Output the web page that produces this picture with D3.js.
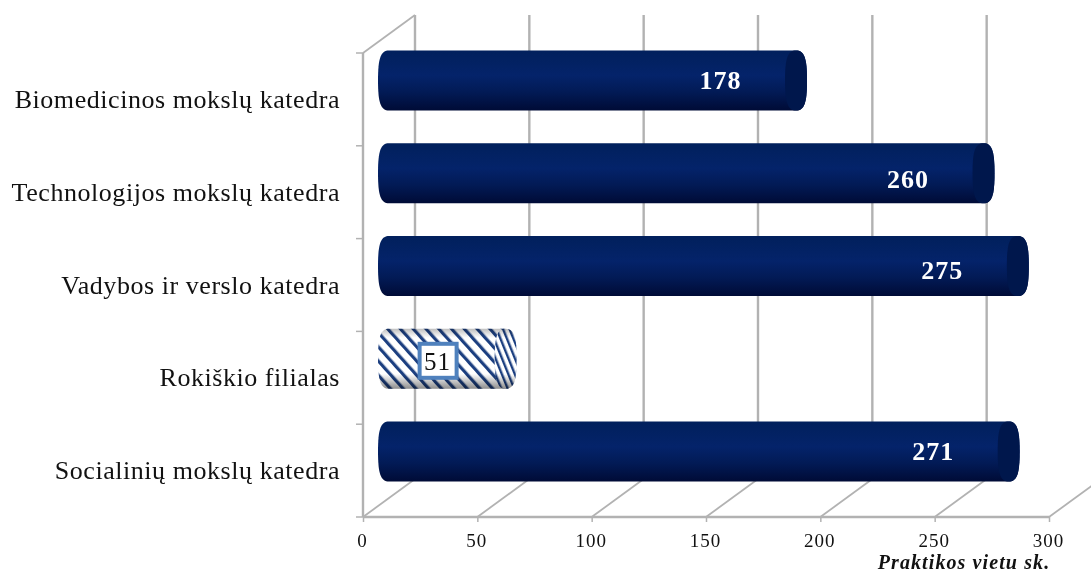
<!DOCTYPE html>
<html>
<head>
<meta charset="utf-8">
<script src="https://cdn.jsdelivr.net/npm/d3@7"></script>
<style>
    html, body { margin: 0; padding: 0; background: #fff; }
    svg { display: block; filter: blur(0.4px); }
    text { font-family: "Liberation Serif", serif; fill: #111; }
</style>
</head>
<body>
<svg id="graph" width="1091" height="573"></svg>
<script>
const categories = [
    "Biomedicinos mokslų katedra",
    "Technologijos mokslų katedra",
    "Vadybos ir verslo katedra",
    "Rokiškio filialas",
    "Socialinių mokslų katedra",
];
const values = [178, 260, 275, 51, 271];
const hatched = ["Rokiškio filialas"];
const xTicks = [0, 50, 100, 150, 200, 250, 300];
const axisTitle = "Praktikos vietu sk.";

// Pseudo 3D box: the back wall is the front plane moved by depth
const depth = {x: 52, y: -38};
const plot = {left: 363, right: 1049, top: 53, bottom: 517};
const gridColor = "#b2b2b2";
const capRx = 11;
const barHeight = 60;

// The value labels are not quite centred in the reference
const labelNudge = [0, 6, 4, 3, 0];

const svg = d3.select("#graph");

const x = d3.scaleLinear().domain([0, 300]).range([plot.left, plot.right]);
const y = d3.scaleBand().domain(categories).range([plot.top, plot.bottom]);

const defs = svg.append("defs");

const bodyGrad = defs.append("linearGradient")
    .attr("id", "barBody")
    .attr("x1", 0).attr("y1", 0).attr("x2", 0).attr("y2", 1);
[[0, "#01205c"], [0.42, "#04236a"], [0.7, "#021a55"], [1, "#000b36"]].forEach(function (s) {
    bodyGrad.append("stop").attr("offset", s[0]).attr("stop-color", s[1]);
});

// Stripes for the hatched bar, the end cap has tighter and steeper ones
function addHatch(id, period, stripe, angle) {
    const p = defs.append("pattern")
        .attr("id", id)
        .attr("patternUnits", "userSpaceOnUse")
        .attr("width", period).attr("height", period)
        .attr("patternTransform", "rotate(" + angle + ")");
    p.append("rect").attr("width", period).attr("height", period).attr("fill", "#fff");
    p.append("rect").attr("width", stripe).attr("height", period).attr("fill", "#1c3f80");
}
addHatch("hatch", 9.5, 3.2, -42);
addHatch("hatchCap", 6, 2.4, -22);

const shade = defs.append("linearGradient")
    .attr("id", "hatchShade")
    .attr("x1", 0).attr("y1", 0).attr("x2", 0).attr("y2", 1);
[[0, "#000", 0.25], [0.15, "#000", 0], [0.75, "#000", 0], [1, "#000", 0.45]].forEach(function (s) {
    shade.append("stop").attr("offset", s[0]).attr("stop-color", s[1]).attr("stop-opacity", s[2]);
});

// Walls and floor
const grid = svg.append("g")
    .attr("fill", "none")
    .attr("stroke", gridColor)
    .attr("stroke-width", 2.4);

grid.selectAll(".back")
    .data(xTicks)
    .join("line")
    .attr("class", "back")
    .attr("x1", d => x(d) + depth.x)
    .attr("x2", d => x(d) + depth.x)
    .attr("y1", plot.top + depth.y)
    .attr("y2", plot.bottom + depth.y);

grid.selectAll(".floor")
    .data(xTicks)
    .join("line")
    .attr("class", "floor")
    .attr("stroke-width", 1.8)
    .attr("x1", d => x(d))
    .attr("x2", d => x(d) + depth.x)
    .attr("y1", plot.bottom)
    .attr("y2", plot.bottom + depth.y);

grid.append("line")
    .attr("x1", plot.left).attr("x2", plot.left)
    .attr("y1", plot.top).attr("y2", plot.bottom);
grid.append("line")
    .attr("stroke-width", 1.8)
    .attr("x1", plot.left).attr("x2", plot.left + depth.x)
    .attr("y1", plot.top).attr("y2", plot.top + depth.y);
grid.append("line")
    .attr("x1", plot.left).attr("x2", plot.right)
    .attr("y1", plot.bottom).attr("y2", plot.bottom);

// Tick marks sit on the band edges, not on the band centres
grid.selectAll(".catTick")
    .data(categories.concat([null]))
    .join("line")
    .attr("class", "catTick")
    .attr("stroke-width", 1.5)
    .attr("x1", plot.left - 7)
    .attr("x2", plot.left)
    .attr("y1", d => d === null ? plot.bottom : y(d))
    .attr("y2", d => d === null ? plot.bottom : y(d));

// Axes
const xAxis = svg.append("g")
    .attr("transform", "translate(0," + plot.bottom + ")")
    .call(d3.axisBottom(x).tickValues(xTicks).tickSize(5).tickPadding(12));
xAxis.select(".domain").remove();
xAxis.selectAll("line").attr("stroke", gridColor).attr("stroke-width", 1.5);
xAxis.selectAll("text")
    .attr("font-size", 19)
    .attr("letter-spacing", 1)
    .attr("font-family", "Liberation Serif")
    .attr("dx", -1);

const yAxis = svg.append("g")
    .attr("transform", "translate(" + plot.left + ",0)")
    .call(d3.axisLeft(y).tickSize(0).tickPadding(23));
yAxis.select(".domain").remove();
yAxis.selectAll("text")
    .attr("font-size", 26)
    .attr("letter-spacing", 0.55)
    .attr("dy", "0.33em")
    .attr("font-family", "Liberation Serif");

svg.append("text")
    .attr("x", 964)
    .attr("y", 568.5)
    .attr("text-anchor", "middle")
    .attr("font-size", 20)
    .attr("letter-spacing", 1.1)
    .attr("font-weight", "bold")
    .attr("font-style", "italic")
    .text(axisTitle);

// Bars sit halfway into the depth of the box
const rows = categories.map(function (c, i) {
    return {name: c, value: values[i], hatched: hatched.includes(c), nudge: labelNudge[i]};
});

const barX = v => x(v) + depth.x / 2;
const barCy = d => y(d.name) + y.bandwidth() / 2 + depth.y / 2;

// Half outline of an end cap, squarer than a true ellipse. dir 1 bulges right and runs top to bottom.
function capCurve(cx, cy, dir) {
    const r = barHeight / 2;
    const w = capRx * dir;
    const s = dir; // top to bottom for right side, bottom to top for left
    return "C" + (cx + w * 0.75) + "," + (cy - r * s)
        + " " + (cx + w) + "," + (cy - r * 0.75 * s)
        + " " + (cx + w) + "," + cy
        + "C" + (cx + w) + "," + (cy + r * 0.75 * s)
        + " " + (cx + w * 0.75) + "," + (cy + r * s)
        + " " + cx + "," + (cy + r * s);
}

function cylinderPath(d) {
    const x0 = barX(0);
    const x1 = barX(d.value);
    const r = barHeight / 2;
    const cy = barCy(d);
    return "M" + x0 + "," + (cy - r)
        + "L" + x1 + "," + (cy - r)
        + capCurve(x1, cy, 1)
        + "L" + x0 + "," + (cy + r)
        + capCurve(x0, cy, -1) + "Z";
}

function capPath(d) {
    const x1 = barX(d.value);
    const r = barHeight / 2;
    const cy = barCy(d);
    return "M" + x1 + "," + (cy - r)
        + capCurve(x1, cy, 1)
        + capCurve(x1, cy, -1) + "Z";
}

const bars = svg.selectAll(".bar")
    .data(rows)
    .join("g")
    .attr("class", "bar");

bars.append("path")
    .attr("d", cylinderPath)
    .attr("fill", d => d.hatched ? "url(#hatch)" : "url(#barBody)");

bars.append("path")
    .attr("d", capPath)
    .attr("fill", d => d.hatched ? "url(#hatchCap)" : "#00174c");

bars.filter(d => d.hatched).append("path")
    .attr("d", cylinderPath)
    .attr("fill", "url(#hatchShade)");

// Value labels: white on solid bars, boxed on the hatched one
const labelX = d => d.hatched ? barX(d.value) - 68 : barX(d.value) - 75.5;
const labelY = d => barCy(d) + d.nudge;

bars.filter(d => d.hatched).append("rect")
    .attr("x", d => labelX(d) - 18)
    .attr("y", d => labelY(d) - 18)
    .attr("width", 37)
    .attr("height", 34)
    .attr("fill", "#fff")
    .attr("stroke", "#4f81bd")
    .attr("stroke-width", 4);

bars.append("text")
    .attr("x", labelX)
    .attr("y", labelY)
    .attr("dy", "0.33em")
    .attr("text-anchor", "middle")
    .attr("font-size", d => d.hatched ? 25 : 26)
    .attr("letter-spacing", 1)
    .attr("font-weight", d => d.hatched ? "normal" : "bold")
    .style("fill", d => d.hatched ? "#111" : "#fff")
    .text(d => d.value);
</script>
</body>
</html>
